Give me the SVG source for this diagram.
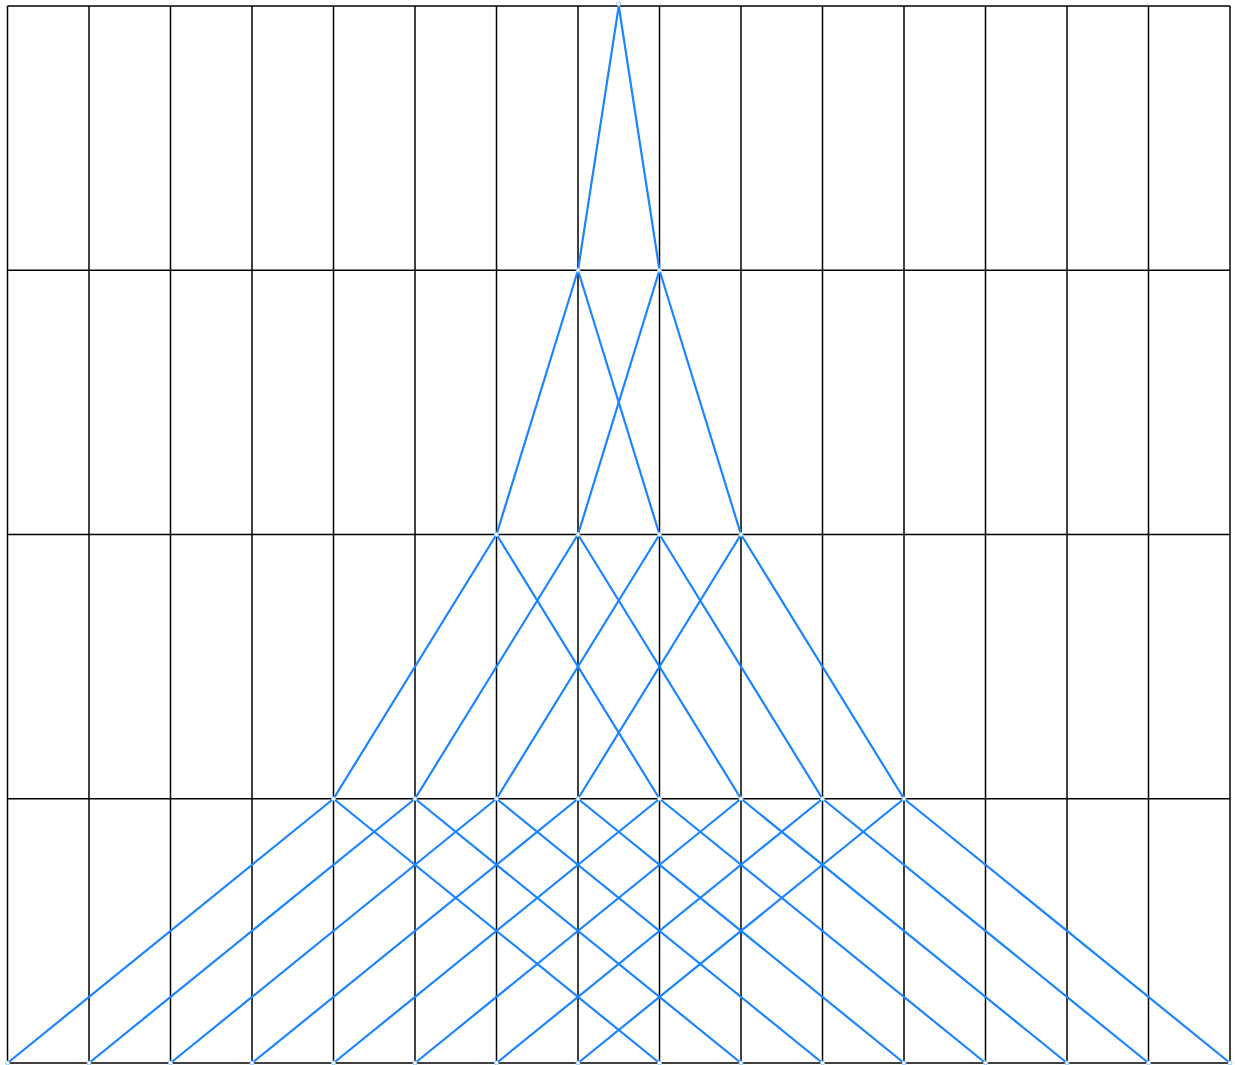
<svg xmlns="http://www.w3.org/2000/svg" width="1235" height="1065" viewBox="0 0 1235 1065">
<style>
.grid line{stroke:#000;stroke-width:1.5}
.edges line{stroke:#1a85ff;stroke-width:2.2;stroke-linecap:round}
.node circle{fill:#fff;stroke:#8cc4ff;stroke-width:1}
</style>
<rect width="1235" height="1065" fill="#fff"/>
<g class="grid">
<line x1="7.5" y1="6" x2="1230" y2="6"/>
<line x1="7.5" y1="270.25" x2="1230" y2="270.25"/>
<line x1="7.5" y1="534.5" x2="1230" y2="534.5"/>
<line x1="7.5" y1="798.75" x2="1230" y2="798.75"/>
<line x1="7.5" y1="1063" x2="1230" y2="1063"/>
<line x1="7.5" y1="6" x2="7.5" y2="1063"/>
<line x1="89" y1="6" x2="89" y2="1063"/>
<line x1="170.5" y1="6" x2="170.5" y2="1063"/>
<line x1="252" y1="6" x2="252" y2="1063"/>
<line x1="333.5" y1="6" x2="333.5" y2="1063"/>
<line x1="415" y1="6" x2="415" y2="1063"/>
<line x1="496.5" y1="6" x2="496.5" y2="1063"/>
<line x1="578" y1="6" x2="578" y2="1063"/>
<line x1="659.5" y1="6" x2="659.5" y2="1063"/>
<line x1="741" y1="6" x2="741" y2="1063"/>
<line x1="822.5" y1="6" x2="822.5" y2="1063"/>
<line x1="904" y1="6" x2="904" y2="1063"/>
<line x1="985.5" y1="6" x2="985.5" y2="1063"/>
<line x1="1067" y1="6" x2="1067" y2="1063"/>
<line x1="1148.5" y1="6" x2="1148.5" y2="1063"/>
<line x1="1230" y1="6" x2="1230" y2="1063"/>
</g>
<g class="edges" id="connectors">
<line x1="618.75" y1="6" x2="578" y2="270.25"/>
<line x1="618.75" y1="6" x2="659.5" y2="270.25"/>
<line x1="578" y1="270.25" x2="496.5" y2="534.5"/>
<line x1="578" y1="270.25" x2="659.5" y2="534.5"/>
<line x1="659.5" y1="270.25" x2="578" y2="534.5"/>
<line x1="659.5" y1="270.25" x2="741" y2="534.5"/>
<line x1="496.5" y1="534.5" x2="333.5" y2="798.75"/>
<line x1="496.5" y1="534.5" x2="659.5" y2="798.75"/>
<line x1="578" y1="534.5" x2="415" y2="798.75"/>
<line x1="578" y1="534.5" x2="741" y2="798.75"/>
<line x1="659.5" y1="534.5" x2="496.5" y2="798.75"/>
<line x1="659.5" y1="534.5" x2="822.5" y2="798.75"/>
<line x1="741" y1="534.5" x2="578" y2="798.75"/>
<line x1="741" y1="534.5" x2="904" y2="798.75"/>
<line x1="333.5" y1="798.75" x2="7.5" y2="1063"/>
<line x1="333.5" y1="798.75" x2="659.5" y2="1063"/>
<line x1="415" y1="798.75" x2="89" y2="1063"/>
<line x1="415" y1="798.75" x2="741" y2="1063"/>
<line x1="496.5" y1="798.75" x2="170.5" y2="1063"/>
<line x1="496.5" y1="798.75" x2="822.5" y2="1063"/>
<line x1="578" y1="798.75" x2="252" y2="1063"/>
<line x1="578" y1="798.75" x2="904" y2="1063"/>
<line x1="659.5" y1="798.75" x2="333.5" y2="1063"/>
<line x1="659.5" y1="798.75" x2="985.5" y2="1063"/>
<line x1="741" y1="798.75" x2="415" y2="1063"/>
<line x1="741" y1="798.75" x2="1067" y2="1063"/>
<line x1="822.5" y1="798.75" x2="496.5" y2="1063"/>
<line x1="822.5" y1="798.75" x2="1148.5" y2="1063"/>
<line x1="904" y1="798.75" x2="578" y2="1063"/>
<line x1="904" y1="798.75" x2="1230" y2="1063"/>
</g>
<g id="n0" class="node"><circle cx="618.75" cy="4" r="2"/></g>
<g id="n1a" class="node"><circle cx="578" cy="270.25" r="2"/></g>
<g id="n1b" class="node"><circle cx="659.5" cy="270.25" r="2"/></g>
<g id="n2a" class="node"><circle cx="496.5" cy="534.5" r="2"/></g>
<g id="n2b" class="node"><circle cx="578" cy="534.5" r="2"/></g>
<g id="n2c" class="node"><circle cx="659.5" cy="534.5" r="2"/></g>
<g id="n2d" class="node"><circle cx="741" cy="534.5" r="2"/></g>
<g id="n3a" class="node"><circle cx="333.5" cy="798.75" r="2"/></g>
<g id="n3b" class="node"><circle cx="415" cy="798.75" r="2"/></g>
<g id="n3c" class="node"><circle cx="496.5" cy="798.75" r="2"/></g>
<g id="n3d" class="node"><circle cx="578" cy="798.75" r="2"/></g>
<g id="n3e" class="node"><circle cx="659.5" cy="798.75" r="2"/></g>
<g id="n3f" class="node"><circle cx="741" cy="798.75" r="2"/></g>
<g id="n3g" class="node"><circle cx="822.5" cy="798.75" r="2"/></g>
<g id="n3h" class="node"><circle cx="904" cy="798.75" r="2"/></g>
<g id="n4a" class="node"><circle cx="7.5" cy="1063" r="2"/></g>
<g id="n4b" class="node"><circle cx="89" cy="1063" r="2"/></g>
<g id="n4c" class="node"><circle cx="170.5" cy="1063" r="2"/></g>
<g id="n4d" class="node"><circle cx="252" cy="1063" r="2"/></g>
<g id="n4e" class="node"><circle cx="333.5" cy="1063" r="2"/></g>
<g id="n4f" class="node"><circle cx="415" cy="1063" r="2"/></g>
<g id="n4g" class="node"><circle cx="496.5" cy="1063" r="2"/></g>
<g id="n4h" class="node"><circle cx="578" cy="1063" r="2"/></g>
<g id="n4i" class="node"><circle cx="659.5" cy="1063" r="2"/></g>
<g id="n4j" class="node"><circle cx="741" cy="1063" r="2"/></g>
<g id="n4k" class="node"><circle cx="822.5" cy="1063" r="2"/></g>
<g id="n4l" class="node"><circle cx="904" cy="1063" r="2"/></g>
<g id="n4m" class="node"><circle cx="985.5" cy="1063" r="2"/></g>
<g id="n4n" class="node"><circle cx="1067" cy="1063" r="2"/></g>
<g id="n4o" class="node"><circle cx="1148.5" cy="1063" r="2"/></g>
<g id="n4p" class="node"><circle cx="1230" cy="1063" r="2"/></g>
</svg>
